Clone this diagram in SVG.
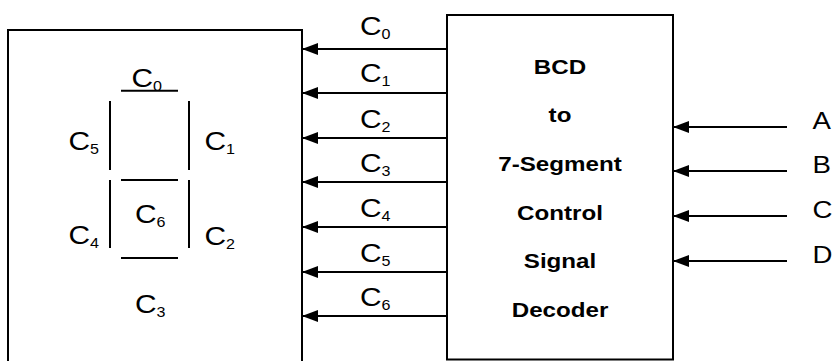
<svg xmlns="http://www.w3.org/2000/svg" width="835" height="361" viewBox="0 0 835 361">
<style>
.box{fill:#fff;stroke:#000;stroke-width:2}
.seg{stroke:#000;stroke-width:2;fill:none}
.wire{stroke:#000;stroke-width:1.8;fill:none}
.lbl{font-family:"Liberation Sans",Arial,sans-serif;font-size:26px;fill:#000}
.sub{font-size:14px}
.title{font-family:"Liberation Sans",Arial,sans-serif;font-size:21px;font-weight:bold;fill:#000;text-anchor:middle}
.in{font-family:"Liberation Sans",Arial,sans-serif;font-size:24px;fill:#000}
</style>
<defs>
<marker id="ah" markerUnits="userSpaceOnUse" markerWidth="17" markerHeight="13" refX="16" refY="6.5" orient="auto">
<path d="M0,0.5 L16,6.5 L0,12.5 Z" fill="#000"/>
</marker>
</defs>
<g id="display">
<rect class="box" x="8" y="30" width="294" height="340"/>
<line class="seg" x1="121" y1="90.7" x2="178" y2="90.7"/>
<line class="seg" x1="110" y1="101" x2="110" y2="170"/>
<line class="seg" x1="189" y1="101" x2="189" y2="170"/>
<line class="seg" x1="121" y1="180" x2="178" y2="180"/>
<line class="seg" x1="110" y1="180" x2="110" y2="248"/>
<line class="seg" x1="189" y1="180" x2="189" y2="248"/>
<line class="seg" x1="121" y1="258" x2="178" y2="258"/>
<text class="lbl" transform="matrix(1.15 0 0 1 131.5 87)">C<tspan class="sub" dy="4">0</tspan></text>
<text class="lbl" transform="matrix(1.15 0 0 1 68.5 150)">C<tspan class="sub" dy="4">5</tspan></text>
<text class="lbl" transform="matrix(1.15 0 0 1 204.5 150)">C<tspan class="sub" dy="4">1</tspan></text>
<text class="lbl" transform="matrix(1.15 0 0 1 135 223)">C<tspan class="sub" dy="4">6</tspan></text>
<text class="lbl" transform="matrix(1.15 0 0 1 68.5 244)">C<tspan class="sub" dy="4">4</tspan></text>
<text class="lbl" transform="matrix(1.15 0 0 1 204.5 245)">C<tspan class="sub" dy="4">2</tspan></text>
<text class="lbl" transform="matrix(1.15 0 0 1 135 313)">C<tspan class="sub" dy="4">3</tspan></text>
</g>
<g id="decoder">
<rect class="box" x="447" y="15" width="226" height="344.5"/>
<text class="title" transform="matrix(1.15 0 0 1 560 74)">BCD</text>
<text class="title" transform="matrix(1.15 0 0 1 560 122)">to</text>
<text class="title" transform="matrix(1.15 0 0 1 560 171)">7-Segment</text>
<text class="title" transform="matrix(1.15 0 0 1 560 220)">Control</text>
<text class="title" transform="matrix(1.15 0 0 1 560 268)">Signal</text>
<text class="title" transform="matrix(1.15 0 0 1 560 317)">Decoder</text>
</g>
<g id="connectors">
<line class="wire" x1="447" y1="49" x2="302" y2="49" marker-end="url(#ah)"/>
<line class="wire" x1="447" y1="93" x2="302" y2="93" marker-end="url(#ah)"/>
<line class="wire" x1="447" y1="138" x2="302" y2="138" marker-end="url(#ah)"/>
<line class="wire" x1="447" y1="182" x2="302" y2="182" marker-end="url(#ah)"/>
<line class="wire" x1="447" y1="227" x2="302" y2="227" marker-end="url(#ah)"/>
<line class="wire" x1="447" y1="272" x2="302" y2="272" marker-end="url(#ah)"/>
<line class="wire" x1="447" y1="316" x2="302" y2="316" marker-end="url(#ah)"/>
<text class="lbl" transform="matrix(1.15 0 0 1 360 35)">C<tspan class="sub" dy="4">0</tspan></text>
<text class="lbl" transform="matrix(1.15 0 0 1 360 82)">C<tspan class="sub" dy="4">1</tspan></text>
<text class="lbl" transform="matrix(1.15 0 0 1 360 127.5)">C<tspan class="sub" dy="4">2</tspan></text>
<text class="lbl" transform="matrix(1.15 0 0 1 360 171.5)">C<tspan class="sub" dy="4">3</tspan></text>
<text class="lbl" transform="matrix(1.15 0 0 1 360 216.5)">C<tspan class="sub" dy="4">4</tspan></text>
<text class="lbl" transform="matrix(1.15 0 0 1 360 261.5)">C<tspan class="sub" dy="4">5</tspan></text>
<text class="lbl" transform="matrix(1.15 0 0 1 360 305.5)">C<tspan class="sub" dy="4">6</tspan></text>
<line class="wire" x1="787" y1="127" x2="673" y2="127" marker-end="url(#ah)"/>
<line class="wire" x1="787" y1="171" x2="673" y2="171" marker-end="url(#ah)"/>
<line class="wire" x1="787" y1="216" x2="673" y2="216" marker-end="url(#ah)"/>
<line class="wire" x1="787" y1="261" x2="673" y2="261" marker-end="url(#ah)"/>
<text class="in" transform="matrix(1.15 0 0 1 812.5 129)">A</text>
<text class="in" transform="matrix(1.15 0 0 1 812.5 173)">B</text>
<text class="in" transform="matrix(1.15 0 0 1 812.5 218)">C</text>
<text class="in" transform="matrix(1.15 0 0 1 812.5 263)">D</text>
</g>
</svg>
